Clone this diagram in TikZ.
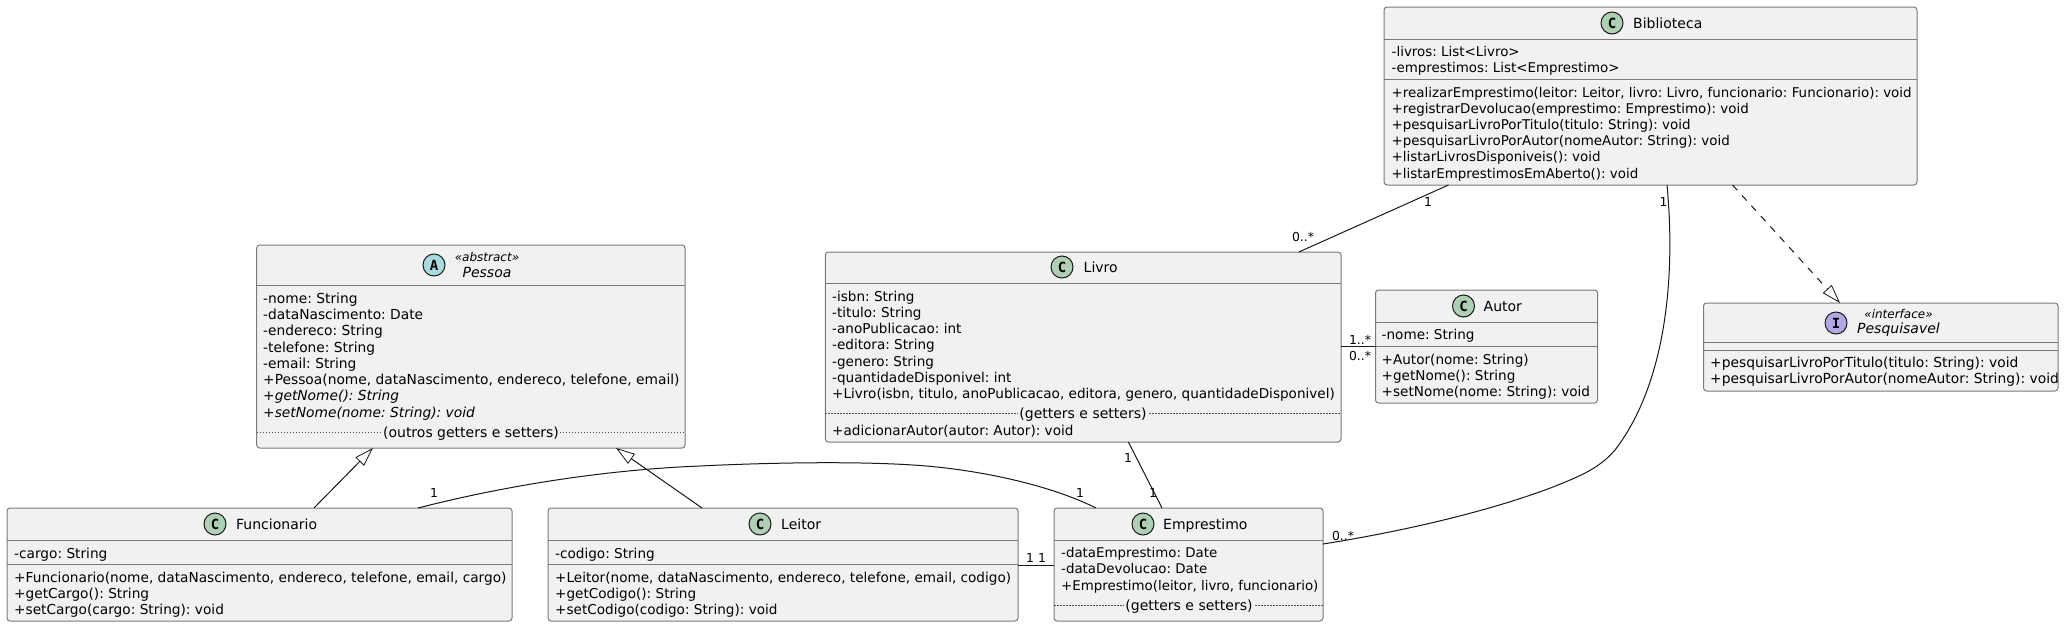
\documentclass[tikz,border=0pt]{standalone}
\usepackage{fontspec}
\setmainfont{DejaVu Sans}
\newfontfamily\monofam{DejaVu Sans Mono}
\AtBeginDocument{\frenchspacing}
\usetikzlibrary{arrows.meta}
\definecolor{boxfill}{HTML}{F1F1F1}
\definecolor{boxline}{HTML}{7A7A7A}
\definecolor{ink}{HTML}{181818}
\definecolor{circC}{HTML}{ADD1B2}
\definecolor{circA}{HTML}{A9DCDF}
\definecolor{circI}{HTML}{B4A7E5}
\newcommand{\tsz}{14}
\tikzset{
  umlbox/.style={draw=boxline,fill=boxfill,line width=1pt,rounded corners=3pt,inner sep=0pt,outer sep=0pt,anchor=north west},
  sepline/.style={draw=boxline,line width=1pt},
  dotline/.style={draw=ink!75,line width=.6pt,dash pattern=on 1.5pt off 1.5pt},
  txt/.style={font=\fontsize{\tsz}{16}\selectfont,text=black,inner sep=0pt,anchor=base west},
  itxt/.style={txt,font=\fontsize{\tsz}{16}\selectfont\itshape},
  ttl/.style={txt,font=\fontsize{14}{16}\selectfont},
  ittl/.style={txt,anchor=base,font=\fontsize{14}{16}\selectfont\itshape},
  dotlabel/.style={txt,anchor=base,font=\fontsize{14}{16}\selectfont,fill=boxfill,inner xsep=1pt,inner ysep=2pt},
  stereo/.style={txt,anchor=base,font=\fontsize{12}{14}\selectfont\itshape},
  mult/.style={font=\fontsize{12.4}{14}\selectfont,text=black,inner sep=0pt,anchor=center},
  badge/.style={circle,draw=ink,line width=1pt,minimum size=22pt,inner sep=0pt,font=\fontsize{14}{14}\selectfont\monofam\bfseries},
  conn/.style={draw=ink,line width=1pt},
  gen/.style={conn,-{Triangle[open,length=19pt,width=12pt,line width=.8pt]}},
}
\newcommand{\umlclass}[5]{\node[umlbox,minimum width={(#4-#2)*1pt},minimum height={(#5-#3)*1pt}] (#1) at (#2,#3) {};}
\newcommand{\sepat}[2]{\draw[sepline] (#1.west |- 0,#2) -- (#1.east |- 0,#2);}
\newcommand{\dotat}[2]{\draw[dotline] (#1.west |- 0,#2) -- (#1.east |- 0,#2);}
\begin{document}
\begin{tikzpicture}[x=1pt,y=-1pt]
\useasboundingbox[fill=white] (0,0) rectangle (2065,627);

% Biblioteca
\renewcommand{\tsz}{13.42}
\umlclass{bib}{1384}{7}{1917}{185}
\sepat{bib}{39}\sepat{bib}{79}
\node[badge,fill=circC] (bibB) at (1612,23) {C};
\node[ttl] (bibT) at (1633,28) {Biblioteca};
\node[txt] (bib1) at (1391.5,56) {-livros: List<Livro>};
\node[txt] (bib2) at (1391.5,72) {-emprestimos: List<Emprestimo>};
\node[txt] (bib3) at (1391.5,97) {+realizarEmprestimo(leitor: Leitor, livro: Livro, funcionario: Funcionario): void};
\node[txt] (bib4) at (1391.5,113) {+registrarDevolucao(emprestimo: Emprestimo): void};
\node[txt] (bib5) at (1391.5,129) {+pesquisarLivroPorTitulo(titulo: String): void};
\node[txt] (bib6) at (1391.5,145) {+pesquisarLivroPorAutor(nomeAutor: String): void};
\node[txt] (bib7) at (1391.5,161) {+listarLivrosDisponiveis(): void};
\node[txt] (bib8) at (1391.5,178) {+listarEmprestimosEmAberto(): void};

% Pessoa
\renewcommand{\tsz}{13.8}
\umlclass{pes}{256.7}{245}{685}{448}
\sepat{pes}{285}
\dotat{pes}{432.3}
\node[badge,fill=circA] (pesB) at (434,265) {A};
\node[stereo] (pesS) at (487,261) {«abstract»};
\node[ittl] (pesT) at (487,277) {Pessoa};
\node[txt] (pes1) at (263,303) {-nome: String};
\node[txt] (pes2) at (263,319) {-dataNascimento: Date};
\node[txt] (pes3) at (263,335) {-endereco: String};
\node[txt] (pes4) at (263,352) {-telefone: String};
\node[txt] (pes5) at (263,368) {-email: String};
\node[txt] (pes6) at (263,384) {+Pessoa(nome, dataNascimento, endereco, telefone, email)};
\node[itxt] (pes7) at (263,400) {+getNome(): String};
\node[itxt] (pes8) at (263,417) {+setNome(nome: String): void};
\node[dotlabel] (pes9) at (471,437) {(outros getters e setters)};

% Livro
\renewcommand{\tsz}{13.57}
\umlclass{liv}{825.4}{252}{1341}{442}
\sepat{liv}{283}
\dotat{liv}{413}
\node[badge,fill=circC] (livB) at (1062,267) {C};
\node[ttl] (livT) at (1083.5,272) {Livro};
\node[txt] (liv1) at (832,301) {-isbn: String};
\node[txt] (liv2) at (832,317) {-titulo: String};
\node[txt] (liv3) at (832,333) {-anoPublicacao: int};
\node[txt] (liv4) at (832,349) {-editora: String};
\node[txt] (liv5) at (832,366) {-genero: String};
\node[txt] (liv6) at (832,382) {-quantidadeDisponivel: int};
\node[txt] (liv7) at (832,398) {+Livro(isbn, titulo, anoPublicacao, editora, genero, quantidadeDisponivel)};
\node[dotlabel] (liv8) at (1083,418) {(getters e setters)};
\node[txt] (liv9) at (832,435) {+adicionarAutor(autor: Autor): void};

% Autor
\renewcommand{\tsz}{13.58}
\umlclass{aut}{1375.5}{290}{1597.5}{403}
\sepat{aut}{322}\sepat{aut}{346}
\node[badge,fill=circC] (autB) at (1463.5,306) {C};
\node[ttl] (autT) at (1483.5,311) {Autor};
\node[txt] (aut1) at (1381.5,339) {-nome: String};
\node[txt] (aut2) at (1381.5,364) {+Autor(nome: String)};
\node[txt] (aut3) at (1381.5,380) {+getNome(): String};
\node[txt] (aut4) at (1381.5,396) {+setNome(nome: String): void};

% Pesquisavel
\renewcommand{\tsz}{13.84}
\umlclass{psq}{1703.5}{303}{2058}{391}
\sepat{psq}{342}\sepat{psq}{350}
\node[badge,fill=circI] (psqB) at (1836,323) {I};
\node[stereo] (psqS) at (1898.5,318) {«interface»};
\node[ittl] (psqT) at (1898.5,333) {Pesquisavel};
\node[txt] (psq1) at (1710,367) {+pesquisarLivroPorTitulo(titulo: String): void};
\node[txt] (psq2) at (1710,383) {+pesquisarLivroPorAutor(nomeAutor: String): void};

% Funcionario
\renewcommand{\tsz}{13.7}
\umlclass{fun}{7}{508}{512}{621}
\sepat{fun}{540}\sepat{fun}{564}
\node[badge,fill=circC] (funB) at (215,524) {C};
\node[ttl] (funT) at (236,529) {Funcionario};
\node[txt] (fun1) at (14,558) {-cargo: String};
\node[txt] (fun2) at (14,582) {+Funcionario(nome, dataNascimento, endereco, telefone, email, cargo)};
\node[txt] (fun3) at (14,598) {+getCargo(): String};
\node[txt] (fun4) at (14,614) {+setCargo(cargo: String): void};

% Leitor
\renewcommand{\tsz}{13.6}
\umlclass{lei}{548}{508}{1018}{621}
\sepat{lei}{540}\sepat{lei}{564}
\node[badge,fill=circC] (leiB) at (760,524) {C};
\node[ttl] (leiT) at (781,529) {Leitor};
\node[txt] (lei1) at (555,558) {-codigo: String};
\node[txt] (lei2) at (555,582) {+Leitor(nome, dataNascimento, endereco, telefone, email, codigo)};
\node[txt] (lei3) at (555,598) {+getCodigo(): String};
\node[txt] (lei4) at (555,614) {+setCodigo(codigo: String): void};

% Emprestimo
\renewcommand{\tsz}{13.36}
\umlclass{emp}{1054}{508}{1323}{621}
\sepat{emp}{540}
\dotat{emp}{605}
\node[badge,fill=circC] (empB) at (1143,524) {C};
\node[ttl] (empT) at (1163,529) {Emprestimo};
\node[txt] (emp1) at (1061,557) {-dataEmprestimo: Date};
\node[txt] (emp2) at (1061,573) {-dataDevolucao: Date};
\node[txt] (emp3) at (1061,590) {+Emprestimo(leitor, livro, funcionario)};
\node[dotlabel] (emp4) at (1189,610) {(getters e setters)};

% Connectors
\draw[conn] ([xshift=64.5pt]bib.south west) -- ([xshift=473.5pt]liv.north west);
\draw[conn] ([xshift=283pt]bib.south west) .. controls (1676,280) and (1665,385) .. (1615,450)
   .. controls (1598,470) and (1575,478) .. (1553,487)
   .. controls (1490,511) and (1405,531) .. ([yshift=-36pt]emp.north east);
\draw[gen,dash pattern=on 7pt off 7pt] ([xshift=348.5pt]bib.south west) -- ([xshift=136.5pt]psq.north west);
\draw[conn] ([yshift=-94pt]liv.north east) -- ([yshift=-56pt]aut.north west);
\draw[conn] ([xshift=303pt]liv.south west) -- ([xshift=108pt]emp.north west);
\draw[conn] ([yshift=-57pt]lei.north east) -- ([yshift=-57pt]emp.north west);
\draw[conn] ([xshift=411pt]fun.north west) .. controls (500,487) and (600,470) .. (700,466)
   .. controls (760,463) and (870,460) .. (937,467)
   .. controls (985,472) and (1050,485) .. ([xshift=42pt]emp.north west);
\draw[gen] ([xshift=307pt]fun.north west) -- ([xshift=116.3pt]pes.south west);
\draw[gen] ([xshift=154pt]lei.north west) -- ([xshift=359.3pt]pes.south west);

% Multiplicities
\node[mult] (m1) at (1428,202) {1};
\node[mult] (m2) at (1303,237) {0..*};
\node[mult] (m3) at (1663.5,202) {1};
\node[mult] (m4) at (1343,536) {0..*};
\node[mult] (m5) at (1360,340) {1..*};
\node[mult] (m6) at (1360,356) {0..*};
\node[mult] (m7) at (1128,458) {1};
\node[mult] (m8) at (1153,493) {1};
\node[mult] (m9) at (1030,558) {1};
\node[mult] (m10) at (1042,558) {1};
\node[mult] (m11) at (434,493) {1};
\node[mult] (m12) at (1080,493) {1};
\end{tikzpicture}
\end{document}
